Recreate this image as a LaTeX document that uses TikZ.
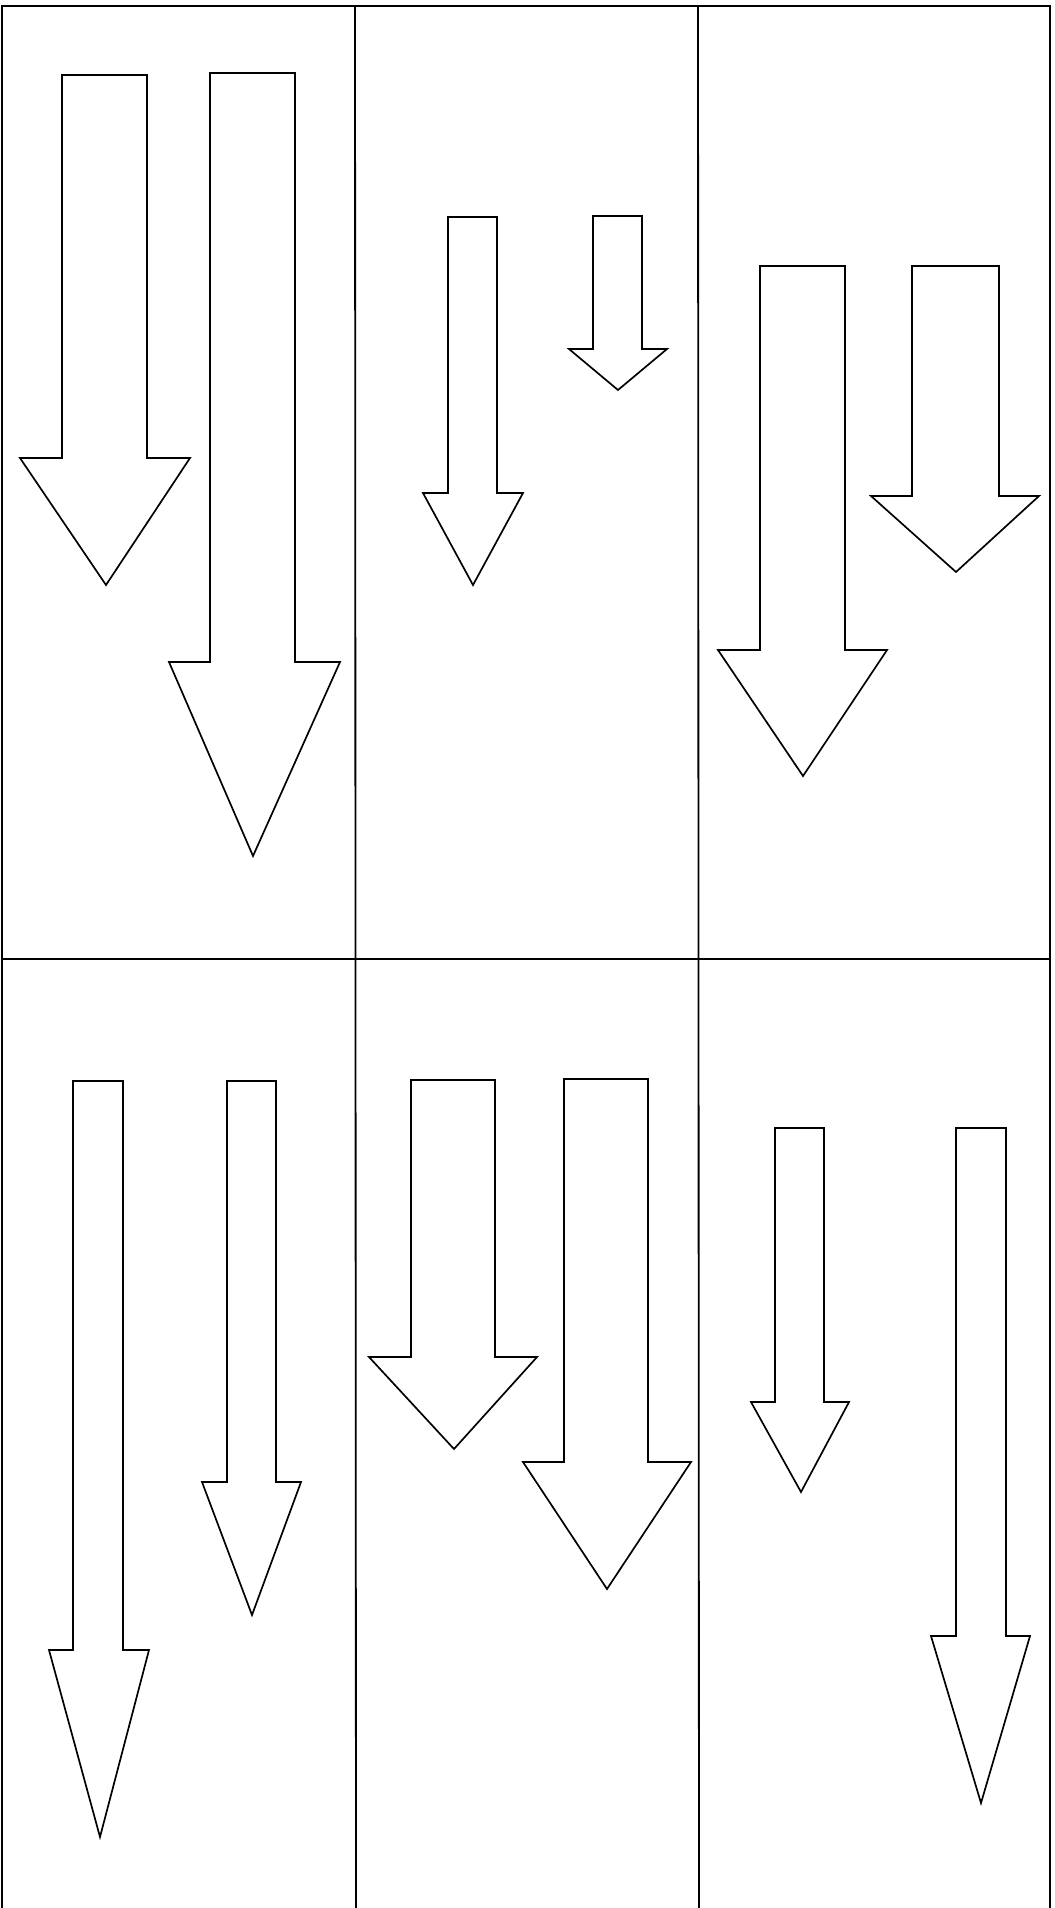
\documentclass[tikz,border=0pt]{standalone}
\usetikzlibrary{positioning}

\begin{document}
\begin{tikzpicture}[x=0.025cm, y=-0.025cm,
      rahmen/.style={draw, line width=1.3pt},
      pfeil/.style={draw, line width=1.2pt, line join=miter, fill=white}]
      \useasboundingbox (0,0) rectangle (1054,1908);

      % raster: zwei zeilen, drei spalten
      \coordinate (tl) at (2,6);
      \coordinate (tr) at (1050,6);
      \coordinate (bl) at (2,1908);
      \coordinate (br) at (1050,1908);
      \draw[rahmen] (bl) -- (tl) -- (tr) -- (br);
      \draw[rahmen] (355,6) -- (356,1908);
      \draw[rahmen] (698,6) -- (699,1908);
      \draw[rahmen] (2,959) -- (1050,959);

      % pfeile: schaft links, schaft rechts, oben, kopf, fluegel links, fluegel rechts, spitze x, spitze y
      \foreach \sl/\sr/\top/\kopf/\wl/\wr/\sx/\sy in {
          62/147/75/458/20/190/106/585,
          210/295/73/662/169/340/253/856,
          448/497/217/493/423/523/473/585,
          593/642/216/349/569/667/618/390,
          760/845/266/650/718/887/803/776,
          912/999/266/496/871/1039/956/572,
          73/123/1081/1650/49/149/100/1837,
          227/276/1081/1482/202/301/252/1615,
          411/495/1080/1357/369/537/454/1449,
          564/648/1079/1462/523/691/607/1589,
          775/824/1128/1402/751/849/801/1492,
          956/1006/1128/1636/931/1030/981/1803}
        \draw[pfeil] (\sl,\top) -- (\sr,\top) -- (\sr,\kopf) -- (\wr,\kopf)
          -- (\sx,\sy) -- (\wl,\kopf) -- (\sl,\kopf) -- cycle;
    \end{tikzpicture}
\end{document}
